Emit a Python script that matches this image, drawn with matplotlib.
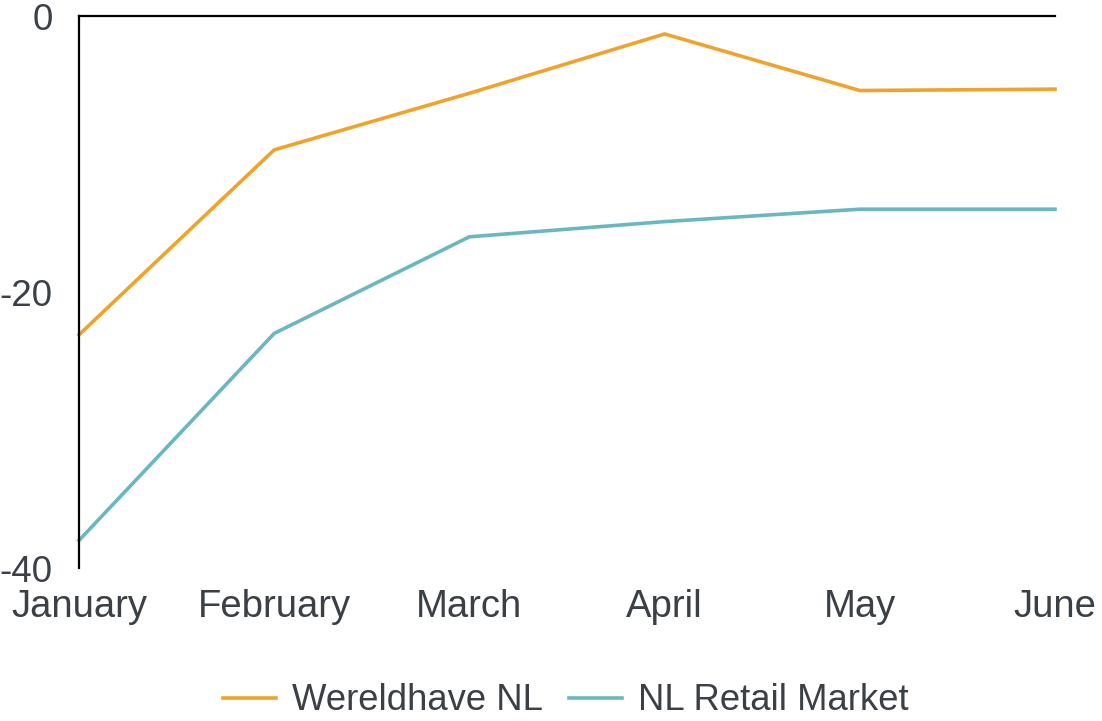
import matplotlib.pyplot as plt

months = ["January", "February", "March", "April", "May", "June"]
wereldhave = [-23.1, -9.7, -5.6, -1.3, -5.4, -5.3]
retail = [-38.0, -23.0, -16.0, -14.9, -14.0, -14.0]
y_ticks = [0, -20, -40]

plt.rcParams["font.family"] = ["Liberation Sans", "DejaVu Sans"]
txt = "#3a4045"

fig = plt.figure(figsize=(11.02, 7.21), dpi=100)
ax = fig.add_axes([79 / 1102, 1 - 568 / 721, (1055 - 79) / 1102, (568 - 16) / 721])

x = range(len(months))
ax.plot(x, wereldhave, color="#f0a32a", lw=2.6, label="Wereldhave NL", clip_on=False)
ax.plot(x, retail, color="#6bb7c0", lw=2.6, label="NL Retail Market", clip_on=False)

ax.set_xlim(0, len(months) - 1)
ax.set_ylim(-40, 0)
ax.set_yticks(y_ticks)
ax.set_yticklabels([str(v) for v in y_ticks], fontsize=26.5, color=txt)
ax.set_xticks(list(x))
ax.set_xticklabels(months, fontsize=27.5, color=txt)
ax.tick_params(length=0)
ax.tick_params(axis="y", pad=19)
ax.tick_params(axis="x", pad=15)

for s in ["right", "bottom"]:
    ax.spines[s].set_visible(False)
ax.spines["left"].set_linewidth(1.6)
ax.spines["top"].set_linewidth(1.6)

leg = fig.legend(loc="center", bbox_to_anchor=(566 / 1102, 1 - 701 / 721), ncol=2,
                 frameon=False, prop={"size": 26.3},
                 handlelength=1.45, columnspacing=0.7, handletextpad=0.45)
for t in leg.get_texts():
    t.set_color(txt)

fig.savefig("out.png", dpi=100)
